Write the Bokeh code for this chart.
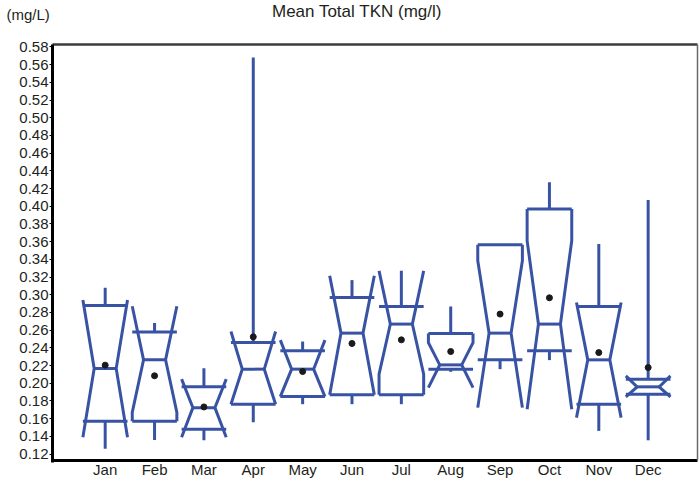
from bokeh.plotting import figure
from bokeh.models import Range1d, FixedTicker, Label, LinearAxis, NumeralTickFormatter
from bokeh.embed import file_html
from bokeh.resources import INLINE

# ---- data ----
months = ["Jan", "Feb", "Mar", "Apr", "May", "Jun", "Jul", "Aug", "Sep", "Oct", "Nov", "Dec"]
month_pos = [1, 2, 3, 4, 5, 6, 7, 8, 9, 10, 11, 12]
whisker_low = [0.126, 0.136, 0.1356, 0.156, 0.1764, 0.1764, 0.1764, 0.213, 0.216, 0.2262, 0.1462, 0.1356]
q1 = [0.157, 0.157, 0.148, 0.1764, 0.185, 0.187, 0.187, 0.216, 0.2265, 0.2367, 0.1764, 0.1877]
notch_low = [0.139, 0.167, 0.139, 0.1764, 0.185, 0.187, 0.2103, 0.1952, 0.1725, 0.1707, 0.1612, 0.1846]
median = [0.2167, 0.2265, 0.1725, 0.216, 0.216, 0.2567, 0.2669, 0.2208, 0.2567, 0.2669, 0.2265, 0.196]
notch_high = [0.294, 0.287, 0.2047, 0.2585, 0.2488, 0.3215, 0.327, 0.246, 0.3385, 0.3611, 0.2913, 0.2084]
q3 = [0.288, 0.258, 0.196, 0.246, 0.2367, 0.297, 0.2868, 0.2563, 0.3566, 0.397, 0.2868, 0.2047]
whisker_high = [0.308, 0.268, 0.2171, 0.568, 0.2472, 0.3166, 0.3272, 0.2868, 0.3566, 0.4271, 0.3574, 0.4072]
mean = [0.2205, 0.2085, 0.1733, 0.2525, 0.2133, 0.245, 0.2491, 0.2359, 0.2782, 0.2966, 0.2347, 0.2178]

y_ticks = [0.12, 0.14, 0.16, 0.18, 0.20, 0.22, 0.24, 0.26, 0.28, 0.30, 0.32, 0.34,
           0.36, 0.38, 0.40, 0.42, 0.44, 0.46, 0.48, 0.50, 0.52, 0.54, 0.56, 0.58]
y_tick_labels = ["0.12", "0.14", "0.16", "0.18", "0.20", "0.22", "0.24", "0.26", "0.28", "0.30", "0.32", "0.34",
                 "0.36", "0.38", "0.40", "0.42", "0.44", "0.46", "0.48", "0.50", "0.52", "0.54", "0.56", "0.58"]
title_text = "Mean Total TKN (mg/l)"
unit_text = "(mg/L)"

# ---- layout / style ----
W, H = 699, 481
# plotting box (the framed area) in data units, and the visible canvas ranges around it
X_BOX = (-0.0677, 13.0)
Y_BOX = (0.11277, 0.58282)
X_VIEW = (-1.1211, 13.0402)
Y_VIEW = (0.08904, 0.63254)
BOX_HALF = 0.452
NOTCH_HALF = 0.223
BLUE = "#3953a4"
FONT = "Liberation Sans"
TXT = "#231f20"

p = figure(width=W, height=H, output_backend="svg", toolbar_location=None,
           x_range=Range1d(*X_VIEW), y_range=Range1d(*Y_VIEW),
           min_border=0, min_border_left=0, min_border_right=0, min_border_top=0, min_border_bottom=0,
           background_fill_color="white", border_fill_color="white", title_location=None)

p.xgrid.visible = False
p.ygrid.visible = False
p.outline_line_color = None

# y axis, placed at the left edge of the plotting box
p.yaxis.fixed_location = X_BOX[0]
p.yaxis.bounds = (Y_BOX[0] - 0.0017, Y_BOX[1])
p.yaxis.ticker = FixedTicker(ticks=y_ticks)
p.yaxis.formatter = NumeralTickFormatter(format="0.00")
p.yaxis.major_label_overrides = dict(zip(y_ticks, y_tick_labels))
p.yaxis.major_label_text_font = FONT
p.yaxis.major_label_text_font_size = "15px"
p.yaxis.major_label_text_color = TXT
p.yaxis.axis_line_width = 3
p.yaxis.axis_line_color = "black"
p.yaxis.major_tick_out = 3
p.yaxis.major_tick_in = 0
p.yaxis.major_tick_line_color = "black"
p.yaxis.minor_tick_line_color = None
p.yaxis.major_label_standoff = 1

# x axis, placed at the bottom edge of the plotting box
p.xaxis.fixed_location = Y_BOX[0]
p.xaxis.bounds = (X_BOX[0] - 0.03, X_BOX[1])
p.xaxis.ticker = FixedTicker(ticks=month_pos)
p.xaxis.major_label_overrides = dict(zip(month_pos, months))
p.xaxis.major_label_text_font = FONT
p.xaxis.major_label_text_font_size = "15px"
p.xaxis.major_label_text_color = TXT
p.xaxis.axis_line_width = 3
p.xaxis.axis_line_color = "black"
p.xaxis.major_tick_out = 0
p.xaxis.major_tick_in = 0
p.xaxis.major_tick_line_color = None
p.xaxis.minor_tick_line_color = None
p.xaxis.major_label_standoff = 1

# top and right edges of the box
top_edge = LinearAxis(fixed_location=Y_BOX[1], bounds=X_BOX, ticker=FixedTicker(ticks=[]),
                      axis_line_color="#3c3c3c", axis_line_width=2.5,
                      major_tick_line_color=None, minor_tick_line_color=None)
right_edge = LinearAxis(fixed_location=X_BOX[1], bounds=Y_BOX, ticker=FixedTicker(ticks=[]),
                        axis_line_color="#6a6a6a", axis_line_width=1.5,
                        major_tick_line_color=None, minor_tick_line_color=None)
p.add_layout(top_edge, "above")
p.add_layout(right_edge, "right")

# notched boxes built from the data arrays
xs, ys = [], []
for x, lo, a, nl, m, nh, b, hi in zip(month_pos, whisker_low, q1, notch_low, median, notch_high, q3, whisker_high):
    top = max(b, nh)
    bot = min(a, nl)
    left_x, left_y = [x - BOX_HALF], [top]
    if nh < b:
        left_x.append(x - BOX_HALF); left_y.append(nh)
    left_x.append(x - NOTCH_HALF); left_y.append(m)
    if nl > a:
        left_x.append(x - BOX_HALF); left_y.append(nl)
    left_x.append(x - BOX_HALF); left_y.append(bot)
    right_x = [2 * x - v for v in left_x]
    xs.append(left_x); ys.append(left_y)
    xs.append(right_x); ys.append(left_y)
    xs.append([x - BOX_HALF, x + BOX_HALF]); ys.append([b, b])
    xs.append([x - BOX_HALF, x + BOX_HALF]); ys.append([a, a])
    xs.append([x - NOTCH_HALF, x + NOTCH_HALF]); ys.append([m, m])

p.multi_line(xs, ys, line_color=BLUE, line_width=3, line_join="miter")
p.segment(x0=month_pos, y0=q3, x1=month_pos, y1=whisker_high, line_color=BLUE, line_width=3)
p.segment(x0=month_pos, y0=q1, x1=month_pos, y1=whisker_low, line_color=BLUE, line_width=3)
p.scatter(month_pos, mean, size=6, color="#1a1a1a")

# title and unit (screen units measured from the lower-left corner)
p.add_layout(Label(x=356.5, y=H - 11, x_units="screen", y_units="screen", text=title_text,
                   text_font=FONT, text_font_size="17px", text_color=TXT,
                   text_align="center", text_baseline="middle"))
p.add_layout(Label(x=6, y=H - 14, x_units="screen", y_units="screen", text=unit_text,
                   text_font=FONT, text_font_size="15px", text_color=TXT,
                   text_align="left", text_baseline="middle"))

open("out.html", "w").write(file_html(p, INLINE))
